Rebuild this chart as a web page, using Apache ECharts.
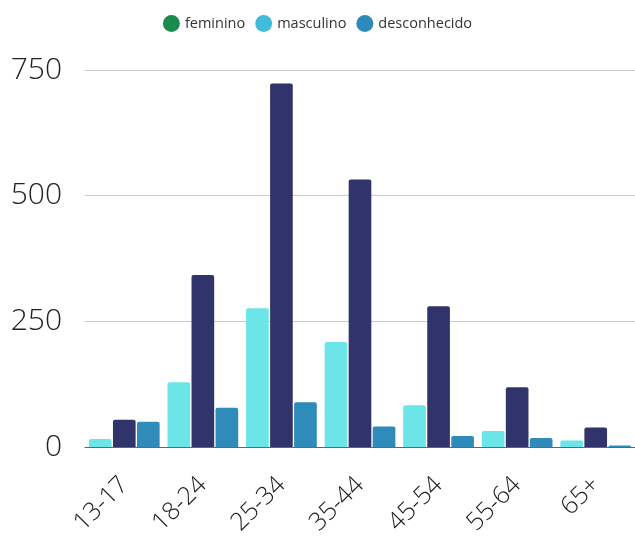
<!DOCTYPE html>
<html>
<head>
<meta charset="utf-8">
<script src="https://cdn.jsdelivr.net/npm/echarts@6/dist/echarts.min.js"></script>
<style>html,body{margin:0;padding:0;background:#fff}#c{width:635px;height:540px}</style>
</head>
<body>
<div id="c"></div>
<script>
const categories = ['13-17','18-24','25-34','35-44','45-54','55-64','65+'];
const seriesNames = ['feminino','masculino','desconhecido'];
const feminino = [16,129,276,209,83,32,13];
const masculino = [54,342,723,532,280,119,39];
const desconhecido = [50,78,89,41,22,18,3];
const yTicks = [0,250,500,750];

const barColors = ['#6be5e8','#31346b','#2e8bba'];
const legendColors = ['#1b8a4e','#40bcda','#2d8bbb'];
const values = [feminino, masculino, desconhecido];

const chart = echarts.init(document.getElementById('c'));
chart.setOption({
  animation:false,
  legend:{
    top:10, left:'center',
    icon:'circle', itemWidth:17, itemHeight:17, itemGap:10,
    textStyle:{fontFamily:'Open Sans', fontSize:14.5, color:'#333'},
    data: seriesNames.map((n,i)=>({name:n, itemStyle:{color:legendColors[i]}}))
  },
  grid:{left:85, right:-7, top:70, bottom:93},
  xAxis:{
    type:'category', data:categories,
    axisLine:{lineStyle:{color:'#666', width:1}},
    axisTick:{show:false},
    axisLabel:{rotate:45, margin:34, fontFamily:'Open Sans', fontWeight:300, fontSize:25, color:'#222', interval:0}
  },
  yAxis:{
    type:'value', min:yTicks[0], max:yTicks[yTicks.length-1], interval:250,
    axisLine:{show:false}, axisTick:{show:false},
    splitLine:{lineStyle:{color:'#c8c8c8', width:1}},
    axisLabel:{margin:23, fontFamily:'Open Sans', fontWeight:300, fontSize:30, color:'#222'}
  },
  series: seriesNames.map((n,i)=>({
    name:n, type:'bar', data:values[i],
    barGap:'6%', barCategoryGap:'10%',
    itemStyle:{color:barColors[i], borderRadius:[2,2,0,0]}
  }))
});
</script>
</body>
</html>
